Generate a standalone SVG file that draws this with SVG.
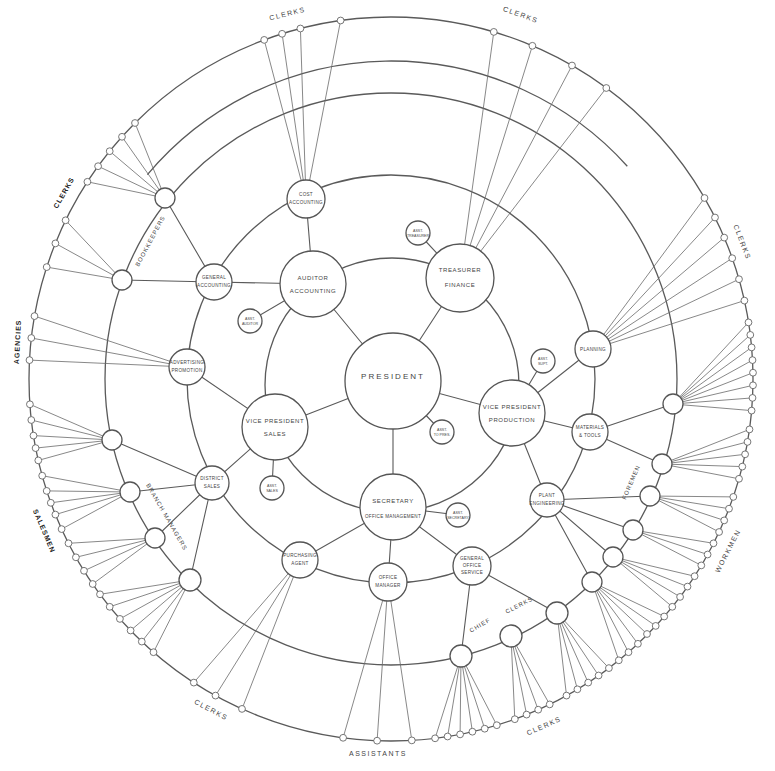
<svg xmlns="http://www.w3.org/2000/svg" xmlns:xlink="http://www.w3.org/1999/xlink" width="775" height="771" viewBox="0 0 775 771">
<style>
.ring{fill:none;stroke:#5a5a5a;stroke-width:1.3}
.ln{fill:none;stroke:#5a5a5a;stroke-width:1.1}
.fan{fill:none;stroke:#6a6a6a;stroke-width:0.8}
.nd{fill:#fff;stroke:#555;stroke-width:1.3}
.sm{fill:#fff;stroke:#666;stroke-width:0.9}
text{font-family:"Liberation Sans",Arial,sans-serif;fill:#444;text-anchor:middle}
.t1{font-size:8px;letter-spacing:2px}
.t2{font-size:6px;letter-spacing:0.6px}
.t3{font-size:4.6px;letter-spacing:0.3px}
.t4{font-size:3.6px}
.lab{font-size:7px;letter-spacing:1.5px}
.bl{font-size:7px;font-weight:bold;letter-spacing:1px;fill:#222}
</style>
<defs><circle id="o" cx="0" cy="0" r="3.4" class="sm"/></defs>
<rect width="775" height="771" fill="#fff"/>
<g id="connectors">
<circle class="ring" cx="391" cy="379" r="362"/>
<circle class="ring" cx="391" cy="379" r="286"/>
<path class="ring" d="M147.4 174.6A318 318 0 0 1 627.3 166.2"/>
<circle class="ring" cx="391" cy="379" r="204"/>
<circle class="ring" cx="392" cy="385" r="127"/>
<path class="ln" d="M393 381L313 284M393 381L460 278M393 381L275 427M393 381L512 413M393 381L393 507M393 381L442 432M313 284L250 321M460 278L418 233M275 427L272 488M512 413L543 361M393 507L458 515M313 284L306 199M313 284L214 282M275 427L187 367M275 427L212 483M393 507L300 560M393 507L388 582M393 507L472 566M512 413L547 500M512 413L590 432M512 413L593 349M214 282L165 198M214 282L122 280M212 483L112 440M212 483L130 492M212 483L155 538M212 483L190 580M472 566L461 656M472 566L557 613M547 500L650 496M547 500L633 530M547 500L613 557M547 500L592 582M590 432L673 404M590 432L662 464"/>
<path class="fan" d="M673 404L748.5 322.4M673 404L750.3 334.9M673 404L751.6 347.4M673 404L752.5 360.1M673 404L753 372.7M673 404L753 385.3M673 404L752.5 397.9M673 404L751.6 410.6
M662 464L749.5 429.4M662 464L747.5 441.9M662 464L745.1 454.3M662 464L742.3 466.6M662 464L739 478.8
M650 496L733.3 496.9M650 496L729 508.7M650 496L724.2 520.4M650 496L719.1 532
M633 530L713.5 543.3M633 530L707.6 554.5M633 530L701.3 565.4
M613 557L694.6 576.2M613 557L687.5 586.6M613 557L680.1 596.9M613 557L672.3 606.8
M592 582L664.2 616.5M592 582L655.7 625.9M592 582L647 634M592 582L637.9 643.8M592 582L628.5 652.2M592 582L618.8 660.3
M557 613L608.9 668.1M557 613L598.6 675.5M557 613L588.2 682.6M557 613L577.4 689.3M557 613L566.5 695.6
M511 636L549.7 704.4M511 636L538.2 709.7M511 636L526.6 714.6M511 636L514.8 719.2
M461 656L496.8 725.2M461 656L484.7 728.7M461 656L472.4 731.7M461 656L460.1 734.4M461 656L447.6 736.5M461 656L435.1 738.3
M388 582L411.8 740.4M388 582L377.1 740.7M388 582L343.1 737.8
M300 560L242 708.9M300 560L215.5 695.6M300 560L193.8 682.6
M190 580L153.5 652.2M190 580L141.8 641.6M190 580L130.6 630.5M190 580L119.9 618.9M190 580L109.7 606.8M190 580L100 594.3
M155 538L92.7 584M155 538L84 570.8M155 538L75.9 557.3M155 538L68.5 543.3
M130 492L61.6 529.1M130 492L55.4 514.6M130 492L50.8 502.8M130 492L46.7 490.9M130 492L42.2 475.7
M112 440L38.3 460.4M112 440L35.6 448.1M112 440L33.5 435.6M112 440L31.3 420M112 440L29.9 404.3
M187 367L29.5 360.1M187 367L31.3 338M187 367L34.5 316.1
M122 280L46.7 267.1M122 280L55.4 243.4M122 280L65.6 220.3
M165 198L87.4 181.8M165 198L98.1 166.2M165 198L109.7 151.2M165 198L122 136.8M165 198L135 123
M306 199L264.2 39.9M306 199L282.1 33.8M306 199L300.4 28.5M306 199L340.6 20.5
M460 278L493.8 31.9M460 278L532.4 45.8M460 278L572 65.5M460 278L606.3 88
M593 349L704.5 198M593 349L715 217.5M593 349L724.2 237.6M593 349L732.2 258.2M593 349L739 279.2M593 349L744.4 300.6"/>
</g>
<g id="outer-nodes">
<use xlink:href="#o" x="748.5" y="322.4"/><use xlink:href="#o" x="750.3" y="334.9"/><use xlink:href="#o" x="751.6" y="347.4"/><use xlink:href="#o" x="752.5" y="360.1"/><use xlink:href="#o" x="753" y="372.7"/><use xlink:href="#o" x="753" y="385.3"/><use xlink:href="#o" x="752.5" y="397.9"/><use xlink:href="#o" x="751.6" y="410.6"/>
<use xlink:href="#o" x="749.5" y="429.4"/><use xlink:href="#o" x="747.5" y="441.9"/><use xlink:href="#o" x="745.1" y="454.3"/><use xlink:href="#o" x="742.3" y="466.6"/><use xlink:href="#o" x="739" y="478.8"/>
<use xlink:href="#o" x="733.3" y="496.9"/><use xlink:href="#o" x="729" y="508.7"/><use xlink:href="#o" x="724.2" y="520.4"/><use xlink:href="#o" x="719.1" y="532"/>
<use xlink:href="#o" x="713.5" y="543.3"/><use xlink:href="#o" x="707.6" y="554.5"/><use xlink:href="#o" x="701.3" y="565.4"/>
<use xlink:href="#o" x="694.6" y="576.2"/><use xlink:href="#o" x="687.5" y="586.6"/><use xlink:href="#o" x="680.1" y="596.9"/><use xlink:href="#o" x="672.3" y="606.8"/>
<use xlink:href="#o" x="664.2" y="616.5"/><use xlink:href="#o" x="655.7" y="625.9"/><use xlink:href="#o" x="647" y="634"/><use xlink:href="#o" x="637.9" y="643.8"/><use xlink:href="#o" x="628.5" y="652.2"/><use xlink:href="#o" x="618.8" y="660.3"/>
<use xlink:href="#o" x="608.9" y="668.1"/><use xlink:href="#o" x="598.6" y="675.5"/><use xlink:href="#o" x="588.2" y="682.6"/><use xlink:href="#o" x="577.4" y="689.3"/><use xlink:href="#o" x="566.5" y="695.6"/>
<use xlink:href="#o" x="549.7" y="704.4"/><use xlink:href="#o" x="538.2" y="709.7"/><use xlink:href="#o" x="526.6" y="714.6"/><use xlink:href="#o" x="514.8" y="719.2"/>
<use xlink:href="#o" x="496.8" y="725.2"/><use xlink:href="#o" x="484.7" y="728.7"/><use xlink:href="#o" x="472.4" y="731.7"/><use xlink:href="#o" x="460.1" y="734.4"/><use xlink:href="#o" x="447.6" y="736.5"/><use xlink:href="#o" x="435.1" y="738.3"/>
<use xlink:href="#o" x="411.8" y="740.4"/><use xlink:href="#o" x="377.1" y="740.7"/><use xlink:href="#o" x="343.1" y="737.8"/>
<use xlink:href="#o" x="242" y="708.9"/><use xlink:href="#o" x="215.5" y="695.6"/><use xlink:href="#o" x="193.8" y="682.6"/>
<use xlink:href="#o" x="153.5" y="652.2"/><use xlink:href="#o" x="141.8" y="641.6"/><use xlink:href="#o" x="130.6" y="630.5"/><use xlink:href="#o" x="119.9" y="618.9"/><use xlink:href="#o" x="109.7" y="606.8"/><use xlink:href="#o" x="100" y="594.3"/>
<use xlink:href="#o" x="92.7" y="584"/><use xlink:href="#o" x="84" y="570.8"/><use xlink:href="#o" x="75.9" y="557.3"/><use xlink:href="#o" x="68.5" y="543.3"/>
<use xlink:href="#o" x="61.6" y="529.1"/><use xlink:href="#o" x="55.4" y="514.6"/><use xlink:href="#o" x="50.8" y="502.8"/><use xlink:href="#o" x="46.7" y="490.9"/><use xlink:href="#o" x="42.2" y="475.7"/>
<use xlink:href="#o" x="38.3" y="460.4"/><use xlink:href="#o" x="35.6" y="448.1"/><use xlink:href="#o" x="33.5" y="435.6"/><use xlink:href="#o" x="31.3" y="420"/><use xlink:href="#o" x="29.9" y="404.3"/>
<use xlink:href="#o" x="29.5" y="360.1"/><use xlink:href="#o" x="31.3" y="338"/><use xlink:href="#o" x="34.5" y="316.1"/>
<use xlink:href="#o" x="46.7" y="267.1"/><use xlink:href="#o" x="55.4" y="243.4"/><use xlink:href="#o" x="65.6" y="220.3"/>
<use xlink:href="#o" x="87.4" y="181.8"/><use xlink:href="#o" x="98.1" y="166.2"/><use xlink:href="#o" x="109.7" y="151.2"/><use xlink:href="#o" x="122" y="136.8"/><use xlink:href="#o" x="135" y="123"/>
<use xlink:href="#o" x="264.2" y="39.9"/><use xlink:href="#o" x="282.1" y="33.8"/><use xlink:href="#o" x="300.4" y="28.5"/><use xlink:href="#o" x="340.6" y="20.5"/>
<use xlink:href="#o" x="493.8" y="31.9"/><use xlink:href="#o" x="532.4" y="45.8"/><use xlink:href="#o" x="572" y="65.5"/><use xlink:href="#o" x="606.3" y="88"/>
<use xlink:href="#o" x="704.5" y="198"/><use xlink:href="#o" x="715" y="217.5"/><use xlink:href="#o" x="724.2" y="237.6"/><use xlink:href="#o" x="732.2" y="258.2"/><use xlink:href="#o" x="739" y="279.2"/><use xlink:href="#o" x="744.4" y="300.6"/>
</g>
<g id="ring3-nodes">
<circle class="nd" cx="165" cy="198" r="10"/><circle class="nd" cx="122" cy="280" r="10"/><circle class="nd" cx="112" cy="440" r="10"/><circle class="nd" cx="130" cy="492" r="10"/><circle class="nd" cx="155" cy="538" r="10"/><circle class="nd" cx="190" cy="580" r="11"/>
<circle class="nd" cx="461" cy="656" r="11"/><circle class="nd" cx="511" cy="636" r="11"/><circle class="nd" cx="557" cy="613" r="11"/><circle class="nd" cx="592" cy="582" r="10"/><circle class="nd" cx="613" cy="557" r="10"/><circle class="nd" cx="633" cy="530" r="10"/><circle class="nd" cx="650" cy="496" r="10"/><circle class="nd" cx="662" cy="464" r="10"/><circle class="nd" cx="673" cy="404" r="10"/>
</g>
<g id="president"><circle class="nd" cx="393" cy="381" r="48"/><text class="t1" x="393" y="379">PRESIDENT</text></g>
<g id="auditor"><circle class="nd" cx="313" cy="284" r="33"/><text class="t2" x="313" y="280">AUDITOR</text><text class="t2" x="313" y="293">ACCOUNTING</text></g>
<g id="treasurer"><circle class="nd" cx="460" cy="278" r="34"/><text class="t2" x="460" y="272">TREASURER</text><text class="t2" x="460" y="287">FINANCE</text></g>
<g id="vp-sales"><circle class="nd" cx="275" cy="427" r="33"/><text class="t2" x="275" y="423">VICE PRESIDENT</text><text class="t2" x="275" y="436">SALES</text></g>
<g id="vp-production"><circle class="nd" cx="512" cy="413" r="33"/><text class="t2" x="512" y="409">VICE PRESIDENT</text><text class="t2" x="512" y="422">PRODUCTION</text></g>
<g id="secretary"><circle class="nd" cx="393" cy="507" r="33"/><text class="t2" x="393" y="503">SECRETARY</text><text class="t3" x="393" y="518">OFFICE MANAGEMENT</text></g>
<g id="sat-auditor"><circle class="nd" cx="250" cy="321" r="12"/><text class="t4" x="250" y="320">ASST.</text><text class="t4" x="250" y="325">AUDITOR</text></g>
<g id="sat-treasurer"><circle class="nd" cx="418" cy="233" r="12"/><text class="t4" x="418" y="232">ASST.</text><text class="t4" x="418" y="237">TREASURER</text></g>
<g id="sat-sales"><circle class="nd" cx="272" cy="488" r="12"/><text class="t4" x="272" y="487">ASST.</text><text class="t4" x="272" y="492">SALES</text></g>
<g id="sat-production"><circle class="nd" cx="543" cy="361" r="12"/><text class="t4" x="543" y="360">ASST.</text><text class="t4" x="543" y="365">SUPT.</text></g>
<g id="sat-secretary"><circle class="nd" cx="458" cy="515" r="12"/><text class="t4" x="458" y="514">ASST.</text><text class="t4" x="458" y="519">SECRETARY</text></g>
<g id="sat-president"><circle class="nd" cx="442" cy="432" r="12"/><text class="t4" x="442" y="431">ASST.</text><text class="t4" x="442" y="436">TO PRES.</text></g>
<g id="cost-accounting"><circle class="nd" cx="306" cy="199" r="19"/><text class="t3" x="306" y="196">COST</text><text class="t3" x="306" y="204">ACCOUNTING</text></g>
<g id="general-accounting"><circle class="nd" cx="214" cy="282" r="18"/><text class="t3" x="214" y="279">GENERAL</text><text class="t3" x="214" y="287">ACCOUNTING</text></g>
<g id="advertising"><circle class="nd" cx="187" cy="367" r="18"/><text class="t3" x="187" y="364">ADVERTISING</text><text class="t3" x="187" y="372">PROMOTION</text></g>
<g id="district-sales"><circle class="nd" cx="212" cy="483" r="17"/><text class="t3" x="212" y="480">DISTRICT</text><text class="t3" x="212" y="488">SALES</text></g>
<g id="purchasing"><circle class="nd" cx="300" cy="560" r="18"/><text class="t3" x="300" y="557">PURCHASING</text><text class="t3" x="300" y="565">AGENT</text></g>
<g id="office-manager"><circle class="nd" cx="388" cy="582" r="19"/><text class="t3" x="388" y="579">OFFICE</text><text class="t3" x="388" y="587">MANAGER</text></g>
<g id="office-service"><circle class="nd" cx="472" cy="566" r="19"/><text class="t3" x="472" y="560">GENERAL</text><text class="t3" x="472" y="567">OFFICE</text><text class="t3" x="472" y="574">SERVICE</text></g>
<g id="plant-engineering"><circle class="nd" cx="547" cy="500" r="17"/><text class="t3" x="547" y="497">PLANT</text><text class="t3" x="547" y="505">ENGINEERING</text></g>
<g id="materials"><circle class="nd" cx="590" cy="432" r="18"/><text class="t3" x="590" y="429">MATERIALS</text><text class="t3" x="590" y="437">&amp; TOOLS</text></g>
<g id="planning"><circle class="nd" cx="593" cy="349" r="18"/><text class="t3" x="593" y="351">PLANNING</text></g>
<g id="labels">
<text class="lab" transform="translate(288 16) rotate(-14)">CLERKS</text>
<text class="lab" transform="translate(520 17) rotate(20)">CLERKS</text>
<text class="lab" transform="translate(740 243) rotate(69)">CLERKS</text>
<text class="lab" transform="translate(730 552) rotate(-63)">WORKMEN</text>
<text class="lab" transform="translate(545 728) rotate(-24)">CLERKS</text>
<text class="lab" x="378" y="756">ASSISTANTS</text>
<text class="lab" transform="translate(210 712) rotate(28)">CLERKS</text>
<text class="bl" transform="translate(42 532) rotate(67)">SALESMEN</text>
<text class="bl" transform="translate(20 342) rotate(-87)">AGENCIES</text>
<text class="bl" transform="translate(66 194) rotate(-60)">CLERKS</text>
<text class="lab" style="font-size:6px;letter-spacing:1px" transform="translate(152 242) rotate(-62)">BOOKKEEPERS</text>
<text class="lab" style="font-size:6px;letter-spacing:1px" transform="translate(165 518) rotate(60)">BRANCH MANAGERS</text>
<text class="lab" style="font-size:6px;letter-spacing:1px" transform="translate(633 483) rotate(-67)">FOREMEN</text>
<text class="lab" style="font-size:6px;letter-spacing:1px" transform="translate(481 627) rotate(-30)">CHIEF</text>
<text class="lab" style="font-size:6px;letter-spacing:1px" transform="translate(520 607) rotate(-27)">CLERKS</text>
</g>
</svg>
